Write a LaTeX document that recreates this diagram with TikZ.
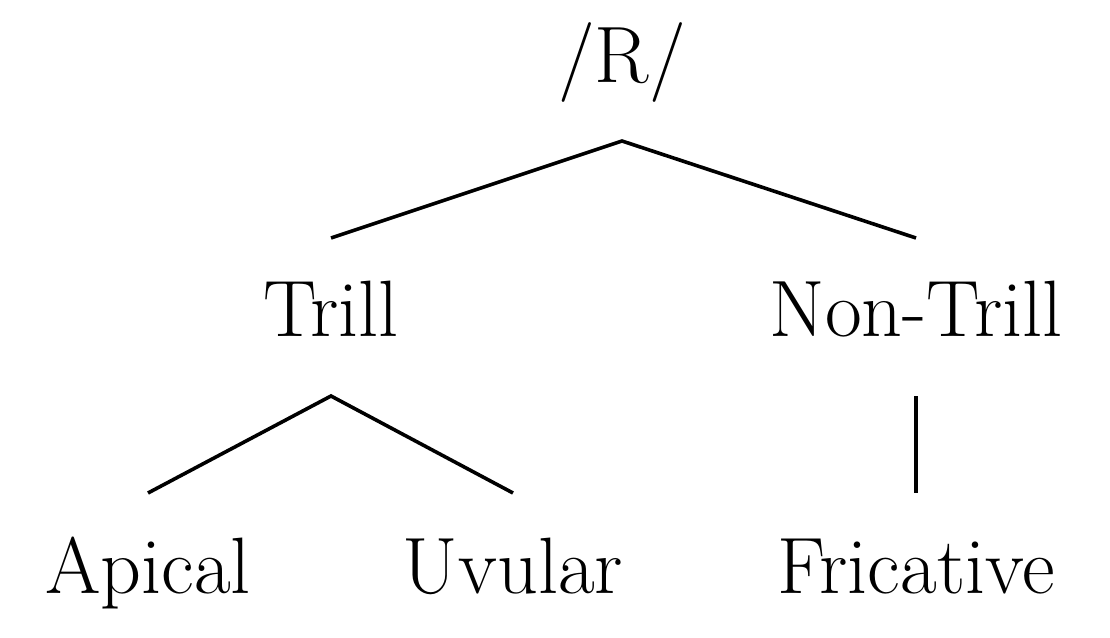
\documentclass[tikz,border=0pt]{standalone}
\begin{document}
\begin{tikzpicture}[x=1pt,y=-1pt,
  lab/.style={anchor=base,inner sep=0pt,font=\fontsize{80}{96}\selectfont},
  branch/.style={line width=3.6pt,line cap=butt,line join=miter}]
\useasboundingbox (0,0) rectangle (1110,637);
\node[lab] (R) at (622,82) {/R/};
\node[lab] (trill) at (331,336) {Trill};
\node[lab] (nontrill) at (916,336) {Non-Trill};
\node[lab] (apical) at (148,593) {Apical};
\node[lab] (uvular) at (513,593) {Uvular};
\node[lab] (fricative) at (916,593) {Fricative};
\coordinate (rtop) at ([yshift=-59pt]R.base);
\coordinate (ttop) at ([yshift=-60pt]trill.base);
\draw[branch] ([yshift=98pt]trill.base) -- (rtop) -- ([yshift=98pt]nontrill.base);
\draw[branch] ([yshift=100pt]apical.base) -- (ttop) -- ([yshift=100pt]uvular.base);
\draw[branch] ([yshift=-60pt]nontrill.base) -- ([yshift=100pt]fricative.base);
\end{tikzpicture}
\end{document}
